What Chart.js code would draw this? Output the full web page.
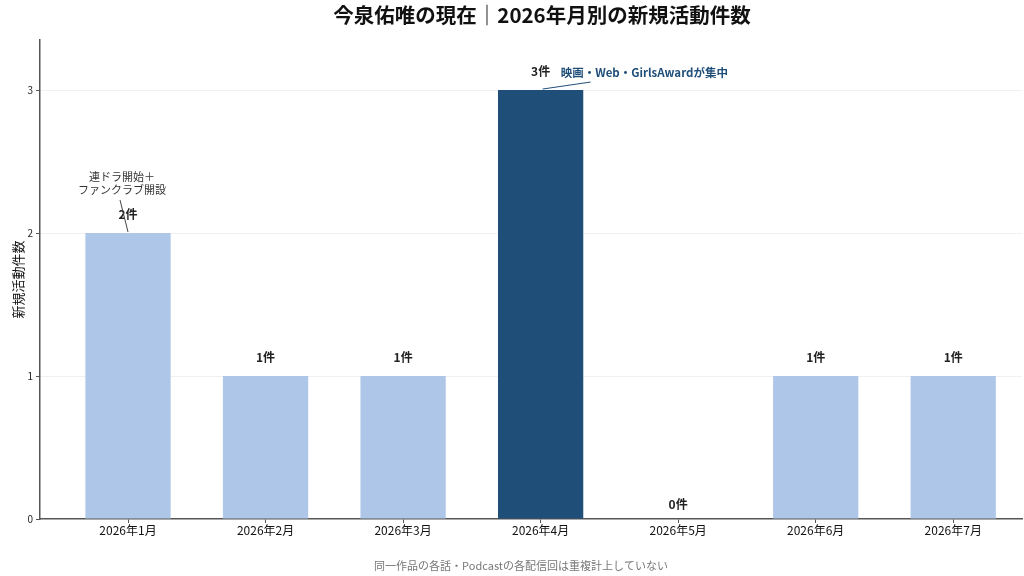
<!DOCTYPE html>
<html>
<head>
<meta charset="utf-8">
<script src="https://cdn.jsdelivr.net/npm/chart.js@4"></script>
<style>
  html, body { margin: 0; padding: 0; background: #fff; }
  #wrap { width: 1024px; height: 576px; }
</style>
</head>
<body>
<div id="wrap"><canvas id="chart" width="1024" height="576"></canvas></div>
<script>
// Data
const months = ["2026年1月", "2026年2月", "2026年3月", "2026年4月", "2026年5月", "2026年6月", "2026年7月"];
const counts = [2, 1, 1, 3, 0, 1, 1];
const yTicks = [0, 1, 2, 3];
const yMax = 3.35;

const titleText = "今泉佑唯の現在｜2026年月別の新規活動件数";
const yTitle = "新規活動件数";
const footnote = "同一作品の各話・Podcastの各配信回は重複計上していない";
const noteJan = ["連ドラ開始＋", "ファンクラブ開設"];
const noteApr = "映画・Web・GirlsAwardが集中";

const FONT = "'Noto Sans CJK JP', 'Noto Sans', sans-serif";
const lightBlue = "#aec7e8";
const darkBlue = "#1f4e79";

const peak = Math.max(...counts);
const barColors = counts.map(v => v === peak ? darkBlue : lightBlue);

// Draws the title, value labels, annotations and footnote
const extras = {
    id: "extras",
    afterDatasetsDraw(chart) {
        const ctx = chart.ctx;
        const x = chart.scales.x;
        const y = chart.scales.y;
        ctx.save();

        // value labels (zero sits a little lower, as in the source)
        ctx.font = "bold 12px " + FONT;
        ctx.fillStyle = "#222";
        ctx.textAlign = "center";
        ctx.textBaseline = "middle";
        counts.forEach((v, i) => {
            const gap = v === 0 ? 15 : 19;
            ctx.fillText(v + "件", x.getPixelForValue(i), y.getPixelForValue(v) - gap);
        });

        // January note
        const jx = x.getPixelForValue(0);
        const jy = y.getPixelForValue(counts[0]);
        ctx.font = "11px " + FONT;
        ctx.fillStyle = "#333";
        ctx.fillText(noteJan[0], jx - 6, jy - 56);
        ctx.fillText(noteJan[1], jx - 6, jy - 43);
        ctx.strokeStyle = "#444";
        ctx.lineWidth = 1;
        ctx.beginPath();
        ctx.moveTo(jx - 8, jy - 33);
        ctx.lineTo(jx, jy - 1);
        ctx.stroke();

        // April note
        const ax = x.getPixelForValue(3);
        const ay = y.getPixelForValue(counts[3]);
        ctx.font = "bold 11.5px " + FONT;
        ctx.fillStyle = darkBlue;
        ctx.textAlign = "left";
        ctx.fillText(noteApr, ax + 20, ay - 17);
        ctx.strokeStyle = darkBlue;
        ctx.beginPath();
        ctx.moveTo(ax + 2, ay - 1);
        ctx.lineTo(ax + 50, ay - 8);
        ctx.stroke();

        // title
        ctx.font = "bold 20.5px " + FONT;
        ctx.fillStyle = "#111";
        ctx.textAlign = "center";
        ctx.fillText(titleText, 542, 15);

        // footnote
        ctx.font = "11px " + FONT;
        ctx.fillStyle = "#777";
        ctx.fillText(footnote, 521, 566);

        ctx.restore();
    }
};

new Chart(document.getElementById("chart"), {
    type: "bar",
    data: {
        datasets: [{
            data: counts.map((v, i) => ({ x: i, y: v })),
            backgroundColor: barColors,
            barPercentage: 0.62,
            categoryPercentage: 1
        }]
    },
    options: {
        responsive: false,
        animation: false,
        layout: { padding: { top: 40, right: 2, left: 0, bottom: 0 } },
        plugins: {
            legend: { display: false },
            tooltip: { enabled: false }
        },
        scales: {
            x: {
                type: "linear",
                offset: false,
                min: -0.64,
                max: 6.5,
                afterBuildTicks(scale) {
                    scale.ticks = months.map((m, i) => ({ value: i }));
                },
                afterFit(scale) { scale.height = 57; },
                ticks: {
                    callback: (v) => months[v] || "",
                    font: { family: FONT, size: 12 },
                    color: "#111",
                    padding: 0,
                    maxRotation: 0,
                    autoSkip: false
                },
                grid: { offset: false, drawOnChartArea: false, tickLength: 4, tickColor: "#555" },
                border: { color: "#555", width: 1.5 }
            },
            y: {
                min: 0,
                max: yMax,
                afterBuildTicks(scale) {
                    scale.ticks = yTicks.map(v => ({ value: v }));
                },
                afterFit(scale) { scale.width = 40; },
                ticks: {
                    font: { family: FONT, size: 10 },
                    color: "#222",
                    padding: 3
                },
                title: {
                    display: true,
                    text: yTitle,
                    font: { family: FONT, size: 13 },
                    color: "#111",
                    padding: { top: 10, bottom: 0 }
                },
                grid: {
                    color: (c) => c.tick && c.tick.value === 0 ? "rgba(0,0,0,0)" : "#f0f0f0",
                    tickLength: 4,
                    tickColor: "#555"
                },
                border: { color: "#555", width: 1.5 }
            }
        }
    },
    plugins: [extras]
});
</script>
</body>
</html>
